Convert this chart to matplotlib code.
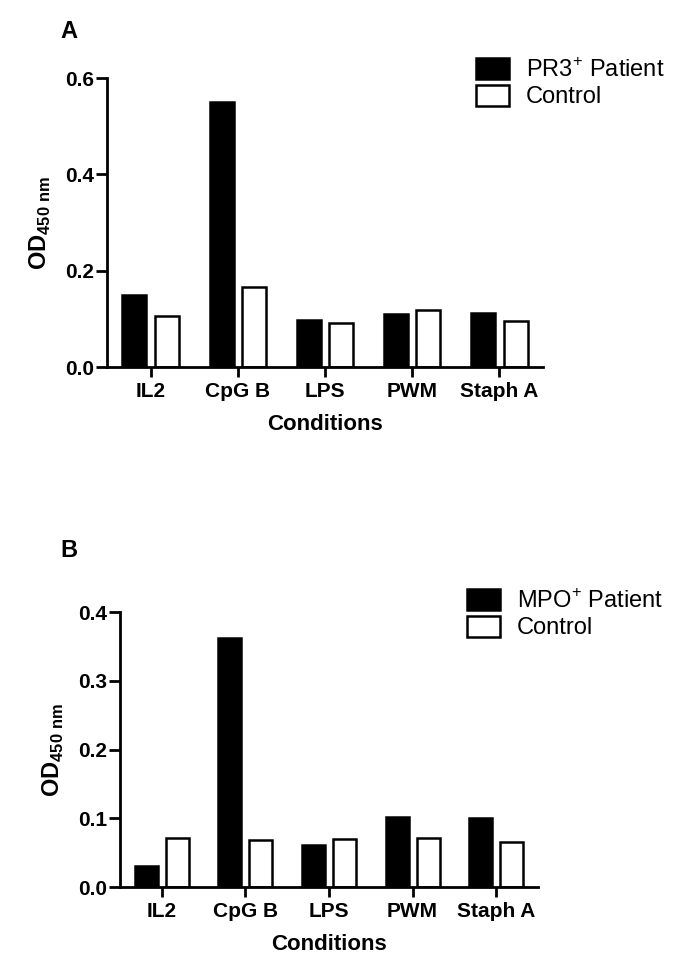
import matplotlib
matplotlib.use("Agg")
import matplotlib.pyplot as plt
import numpy as np
from matplotlib.patches import Patch

fam = "Liberation Sans"
plt.rcParams['font.family'] = [fam, 'DejaVu Sans']
plt.rcParams['mathtext.fontset'] = 'custom'
plt.rcParams['mathtext.rm'] = fam
plt.rcParams['mathtext.bf'] = fam + ':bold'

conditions = ["IL2", "CpG B", "LPS", "PWM", "Staph A"]

# panel A
pr3_patient = [0.149, 0.550, 0.097, 0.111, 0.113]
pr3_control = [0.105, 0.167, 0.092, 0.118, 0.095]
# panel B
mpo_patient = [0.031, 0.363, 0.061, 0.102, 0.101]
mpo_control = [0.071, 0.068, 0.070, 0.072, 0.065]

fig = plt.figure(figsize=(6.85, 9.72), dpi=100)

ax_a = fig.add_axes([0.1562, 0.6224, 0.6365, 0.2973])
ax_b = fig.add_axes([0.1752, 0.0874, 0.6102, 0.2829])

w = 0.275
off = 0.185
x = np.arange(len(conditions))


def draw_panel(ax, patient, control, ymax, yticks, patient_label, legend_xy):
    ax.bar(x - off, patient, w, color='black', edgecolor='black', linewidth=1.8)
    ax.bar(x + off, control, w, color='white', edgecolor='black', linewidth=1.8)
    ax.set_xlim(-0.5, 4.5)
    ax.set_ylim(0, ymax)
    ax.set_yticks(yticks)
    ax.set_yticklabels(["%.1f" % t for t in yticks], fontweight='bold', fontsize=15)
    ax.set_xticks(x)
    ax.set_xticklabels(conditions, fontweight='bold', fontsize=15)
    ax.spines['top'].set_visible(False)
    ax.spines['right'].set_visible(False)
    ax.spines['left'].set_linewidth(2)
    ax.spines['bottom'].set_linewidth(2)
    ax.tick_params(axis='x', length=7, width=2, pad=4)
    ax.tick_params(axis='y', length=8, width=2, pad=1)
    ax.set_xlabel("Conditions", fontweight='bold', fontsize=16, labelpad=9)
    ax.set_ylabel(r"OD$_{\bf 450\ nm}$", fontweight='bold', fontsize=17, labelpad=9)
    handles = [Patch(facecolor='black', edgecolor='black', linewidth=1.8),
               Patch(facecolor='white', edgecolor='black', linewidth=1.8)]
    ax.legend(handles, [patient_label, "Control"], loc='upper left',
              bbox_to_anchor=legend_xy, bbox_transform=fig.transFigure,
              frameon=False, fontsize=17, handlelength=1.4, handleheight=0.95,
              handletextpad=0.7, labelspacing=0.15, borderpad=0, borderaxespad=0)


draw_panel(ax_a, pr3_patient, pr3_control, 0.6, [0.0, 0.2, 0.4, 0.6],
           "PR3$^{+}$ Patient", (476 / 685, 1 - 58 / 972))
draw_panel(ax_b, mpo_patient, mpo_control, 0.4, [0.0, 0.1, 0.2, 0.3, 0.4],
           "MPO$^{+}$ Patient", (467 / 685, 1 - 589 / 972))

fig.text(60 / 685, 1 - 32 / 972, "A", fontweight='bold', fontsize=17, va='center')
fig.text(60 / 685, 1 - 550 / 972, "B", fontweight='bold', fontsize=17, va='center')

fig.savefig("out.png", dpi=100)
